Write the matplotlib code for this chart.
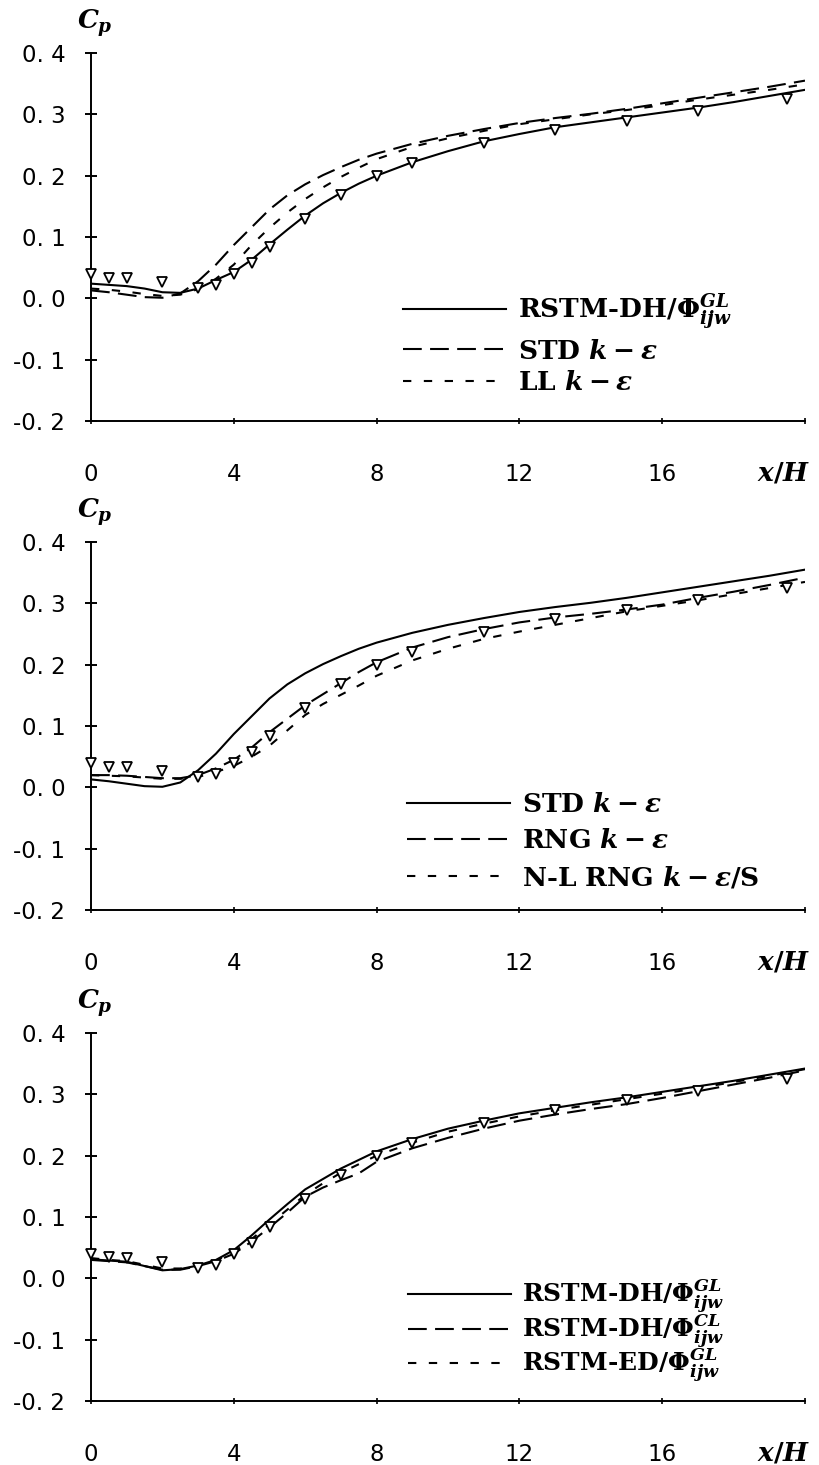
import matplotlib
matplotlib.use("Agg")
import matplotlib.pyplot as plt

# mathtext: bold serif, bold-italic for variables
plt.rcParams['mathtext.fontset'] = 'custom'
plt.rcParams['mathtext.rm'] = 'DejaVu Serif:bold'
plt.rcParams['mathtext.bf'] = 'DejaVu Serif:bold'
plt.rcParams['mathtext.it'] = 'DejaVu Serif:italic:bold'
plt.rcParams['font.family'] = ['DejaVu Sans']

# experimental points (same in every panel)
x_exp = [0, 0.5, 1, 2, 3, 3.5, 4, 4.5, 5, 6, 7, 8, 9, 11, 13, 15, 17, 19.5]
cp_exp = [0.040, 0.034, 0.033, 0.027, 0.017, 0.022, 0.040, 0.058, 0.084,
          0.130, 0.168, 0.200, 0.220, 0.253, 0.274, 0.290, 0.305, 0.325]

# model curves
x_mod = [0, 0.5, 1, 1.5, 2, 2.5, 3, 3.5, 4, 4.5, 5, 5.5, 6, 6.5, 7, 7.5, 8,
         9, 10, 11, 12, 13, 14, 15, 16, 17, 18, 19, 20]

rstm_dh_gl = [0.024, 0.022, 0.020, 0.016, 0.010, 0.009, 0.016, 0.030, 0.043,
              0.063, 0.088, 0.112, 0.135, 0.155, 0.172, 0.187, 0.200, 0.222,
              0.240, 0.256, 0.268, 0.279, 0.287, 0.295, 0.303, 0.311, 0.320,
              0.330, 0.340]
std_ke = [0.013, 0.010, 0.006, 0.002, 0.001, 0.008, 0.028, 0.055, 0.087,
          0.116, 0.145, 0.168, 0.186, 0.201, 0.214, 0.226, 0.236, 0.252,
          0.265, 0.276, 0.286, 0.294, 0.301, 0.309, 0.318, 0.327, 0.336,
          0.345, 0.355]
ll_ke = [0.016, 0.014, 0.011, 0.007, 0.004, 0.006, 0.015, 0.032, 0.055,
         0.087, 0.115, 0.140, 0.162, 0.181, 0.198, 0.213, 0.227, 0.247,
         0.261, 0.273, 0.284, 0.292, 0.300, 0.307, 0.315, 0.324, 0.332,
         0.340, 0.349]

rng_ke = [0.020, 0.020, 0.019, 0.017, 0.015, 0.015, 0.020, 0.031, 0.045,
          0.065, 0.090, 0.112, 0.134, 0.152, 0.170, 0.188, 0.204, 0.228,
          0.245, 0.258, 0.269, 0.277, 0.283, 0.290, 0.298, 0.309, 0.319,
          0.330, 0.342]
nl_rng_ke = [0.020, 0.019, 0.018, 0.016, 0.014, 0.014, 0.017, 0.025, 0.035,
             0.050, 0.068, 0.093, 0.118, 0.136, 0.151, 0.166, 0.182, 0.207,
             0.226, 0.242, 0.254, 0.265, 0.276, 0.287, 0.296, 0.305, 0.315,
             0.325, 0.335]

rstm_dh_gl3 = [0.031, 0.029, 0.027, 0.020, 0.013, 0.015, 0.021, 0.030, 0.046,
               0.070, 0.096, 0.121, 0.145, 0.162, 0.179, 0.193, 0.207, 0.227,
               0.244, 0.257, 0.269, 0.278, 0.287, 0.295, 0.304, 0.313, 0.322,
               0.332, 0.342]
rstm_dh_cl = [0.030, 0.028, 0.026, 0.020, 0.014, 0.014, 0.020, 0.028, 0.040,
              0.060, 0.083, 0.107, 0.133, 0.148, 0.160, 0.171, 0.190, 0.212,
              0.229, 0.244, 0.257, 0.267, 0.276, 0.284, 0.294, 0.305, 0.316,
              0.327, 0.339]
rstm_ed_gl = [0.033, 0.030, 0.028, 0.022, 0.016, 0.016, 0.020, 0.029, 0.043,
              0.064, 0.088, 0.112, 0.136, 0.155, 0.172, 0.186, 0.200, 0.221,
              0.239, 0.252, 0.264, 0.274, 0.283, 0.292, 0.301, 0.310, 0.320,
              0.330, 0.341]

labels1 = [r'RSTM-DH/$\Phi^{GL}_{ijw}$', r'STD $k-\epsilon$', r'LL $k-\epsilon$']
labels2 = [r'STD $k-\epsilon$', r'RNG $k-\epsilon$', r'N-L RNG $k-\epsilon$/S']
labels3 = [r'RSTM-DH/$\Phi^{GL}_{ijw}$', r'RSTM-DH/$\Phi^{CL}_{ijw}$',
           r'RSTM-ED/$\Phi^{GL}_{ijw}$']

panels = [
    ([rstm_dh_gl, std_ke, ll_ke], labels1),
    ([std_ke, rng_ke, nl_rng_ke], labels2),
    ([rstm_dh_gl3, rstm_dh_cl, rstm_ed_gl], labels3),
]

xticks = [0, 4, 8, 12, 16, 20]
xtick_labels = ['0', '4', '8', '12', '16', '']
yticks = [-0.2, -0.1, 0.0, 0.1, 0.2, 0.3, 0.4]
ytick_labels = ['-0. 2', '-0. 1', '0. 0', '0. 1', '0. 2', '0. 3', '0. 4']

styles = ['-', (0, (9, 4)), (0, (4, 6))]

fig = plt.figure(figsize=(8.2, 14.65), dpi=100)
bottoms = [0.7126, 0.3788, 0.0437]
legend_pos = [(0.437, 0.07), (0.443, 0.053), (0.444, 0.045)]
legend_gap = [0.25, 0.42, -0.12]
legend_size = [19, 19, 18]

for (curves, labels), b, lp, gap, fs in zip(panels, bottoms, legend_pos,
                                             legend_gap, legend_size):
    ax = fig.add_axes([0.111, b, 0.8707, 0.2512])
    for cp, ls, lab in zip(curves, styles, labels):
        ax.plot(x_mod, cp, color='black', lw=1.5, linestyle=ls, label=lab)
    ax.plot(x_exp, cp_exp, linestyle='none', marker='v', ms=7,
            mfc='white', mec='black', mew=1.3, clip_on=False, zorder=3)

    ax.set_xlim(0, 20)
    ax.set_ylim(-0.2, 0.4)
    ax.set_xticks(xticks)
    ax.set_xticklabels(xtick_labels)
    ax.set_yticks(yticks)
    ax.set_yticklabels(ytick_labels)
    for s in ['top', 'right']:
        ax.spines[s].set_visible(False)
    for s in ['left', 'bottom']:
        ax.spines[s].set_linewidth(1.4)
    ax.tick_params(axis='y', direction='inout', length=9, width=1.4,
                   labelsize=16.5, pad=14)
    ax.tick_params(axis='x', direction='inout', length=5, width=1.2,
                   labelsize=16.5, pad=28)

    ax.text(0.006, 1.082, r'$C_p$', transform=ax.transAxes, fontsize=19,
            ha='center', va='center')
    ax.text(19.4, -0.2 - 0.6 * 0.142, r'$x/H$', fontsize=19,
            ha='center', va='center')

    ax.legend(loc='lower left', bbox_to_anchor=lp, frameon=False,
              borderpad=0, borderaxespad=0, handlelength=3.9 * 19 / fs,
              handletextpad=0.45, labelspacing=gap,
              prop={'family': 'DejaVu Serif', 'weight': 'bold', 'size': fs})

fig.savefig('out.png', dpi=100)
